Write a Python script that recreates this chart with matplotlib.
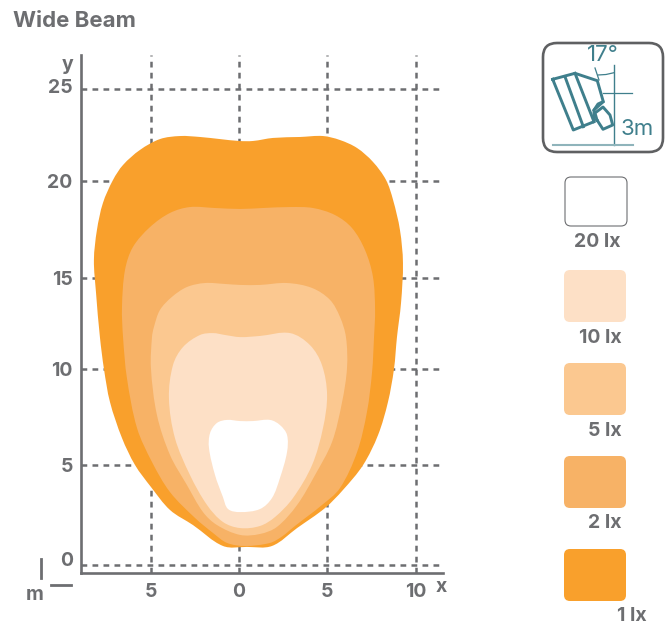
import matplotlib
matplotlib.use("Agg")
import matplotlib.pyplot as plt
import numpy as np
from matplotlib.path import Path
from matplotlib.patches import PathPatch, FancyBboxPatch
from matplotlib.transforms import ScaledTranslation

W, H = 668, 626
GRAY = "#6d6e71"
TEAL = "#3f7f8c"
plt.rcParams['font.family'] = ['Inter', 'DejaVu Sans']

title = "Wide Beam"
x_ticks = [-5, 0, 5, 10]
x_tick_labels = ["5", "0", "5", "10"]
# grid rows as they sit on the picture: the printed scale is slightly uneven
y_ticks = [0, 5.25, 10.29, 15.07, 20.17, 25]
y_tick_labels = ["0", "5", "10", "15", "20", "25"]

levels = ["1 lx", "2 lx", "5 lx", "10 lx", "20 lx"]
colors = ["#f9a02c", "#f7b266", "#fbc890", "#fde0c6", "#ffffff"]

lx1_x = [0, .79, 1.93, 3.46, 4.76, 5.72, 6.69, 7.59, 8.33, 8.73, 9.12, 9.29, 9.18, 8.95, 8.78, 8.44, 7.88, 7.03, 5.89, 4.87, 3.29, 1.87, .45, -.91, -2.61, -3.91, -4.99, -5.89, -6.63, -7.31, -7.65, -7.88, -8.10, -8.22, -8.05, -7.71, -7.14, -6.57, -5.61, -4.48, -3.34, -2.21, -1.08]
lx1_y = [22.27, 22.27, 22.43, 22.48, 22.53, 22.32, 21.90, 21.17, 20.22, 19.17, 17.59, 15.86, 13.76, 11.97, 10.29, 8.56, 6.83, 5.25, 3.94, 2.99, 1.94, 1.00, .95, 1.00, 2.10, 2.89, 4.10, 5.25, 6.67, 8.56, 10.29, 11.97, 14.29, 16.02, 17.59, 19.01, 20.22, 21.01, 21.80, 22.37, 22.53, 22.48, 22.37]

lx2_x = [.06, 1.36, 2.89, 4.19, 5.44, 6.40, 7.14, 7.59, 7.71, 7.65, 7.54, 7.25, 6.69, 5.72, 4.70, 3.17, 2.44, 1.76, .34, -.68, -1.47, -2.49, -3.91, -4.93, -5.78, -6.35, -6.57, -6.63, -6.46, -6.01, -5.04, -3.91, -2.78, -1.36]
lx2_y = [18.70, 18.75, 18.80, 18.75, 18.38, 17.70, 16.54, 15.13, 13.39, 11.97, 10.14, 8.04, 5.93, 4.04, 3.15, 2.05, 1.50, 1.16, 1.00, 1.16, 1.68, 2.47, 3.83, 5.41, 7.20, 9.82, 11.97, 13.55, 15.49, 16.70, 17.75, 18.49, 18.80, 18.75]

lx5_x = [.06, 1.19, 2.72, 4.14, 5.16, 5.72, 6.06, 6.12, 5.84, 5.27, 4.31, 3.29, 2.15, 1.19, .06, -1.25, -2.04, -2.95, -3.91, -4.65, -4.99, -4.93, -4.82, -4.48, -3.80, -2.95, -1.93, -.79]
lx5_y = [14.71, 14.71, 14.81, 14.55, 13.92, 13.03, 11.97, 10.35, 8.56, 6.46, 4.73, 3.15, 2.00, 1.63, 1.58, 2.10, 2.78, 4.20, 5.78, 7.88, 10.35, 11.97, 12.50, 13.39, 14.08, 14.60, 14.81, 14.76]

lx10_x = [.06, 1.19, 2.89, 4.02, 4.70, 4.99, 4.76, 4.14, 3.06, 2.04, 1.19, .06, -.91, -1.81, -2.78, -3.63, -3.97, -3.74, -3.17, -2.21, -1.47, -.79]
lx10_y = [11.97, 12.03, 12.18, 11.55, 10.50, 8.93, 7.20, 5.25, 3.52, 2.52, 2.05, 1.94, 2.26, 3.15, 4.73, 6.67, 8.77, 10.50, 11.45, 12.08, 12.18, 12.08]

lx20_x = [.06, .79, 1.76, 2.32, 2.72, 2.72, 2.32, 1.87, 1.19, .06, -.62, -.91, -1.36, -1.70, -1.64, -1.25, -.68]
lx20_y = [7.56, 7.56, 7.62, 7.35, 6.83, 5.93, 4.57, 3.52, 2.94, 2.78, 2.94, 3.57, 4.73, 6.14, 6.93, 7.46, 7.62]

contours = [(lx1_x, lx1_y), (lx2_x, lx2_y), (lx5_x, lx5_y), (lx10_x, lx10_y), (lx20_x, lx20_y)]


def smooth_path(xs, ys):
    """Closed Bezier curve through the outline points, handles set by chord length."""
    p = np.column_stack([xs, ys])
    n = len(p)
    tang = np.roll(p, -1, axis=0) - np.roll(p, 1, axis=0)
    tang = tang / np.linalg.norm(tang, axis=1, keepdims=True)
    verts = [p[0]]
    codes = [Path.MOVETO]
    for i in range(n):
        j = (i + 1) % n
        d = np.linalg.norm(p[j] - p[i])
        verts += [p[i] + tang[i] * d / 3, p[j] - tang[j] * d / 3, p[j]]
        codes += [Path.CURVE4] * 3
    return Path(np.array(verts), codes)


fig = plt.figure(figsize=(W / 100, H / 100), dpi=100)
L, R, T, B = 81, 443, 55, 573
ax = fig.add_axes([L / W, 1 - B / H, (R - L) / W, (B - T) / H])
ax.set_xlim((L - 239) / 17.65, (R - 239) / 17.65)
ax.set_ylim((565 - B) / 19.04, (565 - T) / 19.04)
ax.set_xticks(x_ticks, x_tick_labels)
ax.set_yticks(y_ticks, y_tick_labels)
ax.tick_params(length=0, colors=GRAY, labelsize=14)
ax.tick_params(axis='x', pad=7)
ax.tick_params(axis='y', pad=6)
for lab in ax.get_xticklabels() + ax.get_yticklabels():
    lab.set_fontweight('bold')
ylabs = ax.get_yticklabels()
ylabs[0].set_transform(ylabs[0].get_transform() + ScaledTranslation(0, 6 / 100, fig.dpi_scale_trans))
ylabs[-1].set_transform(ylabs[-1].get_transform() + ScaledTranslation(0, 3 / 100, fig.dpi_scale_trans))
ax.grid(True, color=GRAY, lw=1.8, dashes=(2.3, 2.1), zorder=1)
ax.set_axisbelow(True)
for s in ('top', 'right'):
    ax.spines[s].set_visible(False)
for s in ('left', 'bottom'):
    ax.spines[s].set_color(GRAY)
    ax.spines[s].set_linewidth(1.9)

for (xs, ys), c in zip(contours, colors):
    ax.add_patch(PathPatch(smooth_path(xs, ys), fc=c, ec='none', zorder=2))

# overlay in pixel coordinates for the decorations
ov = fig.add_axes([0, 0, 1, 1], facecolor='none')
ov.set_xlim(0, W)
ov.set_ylim(H, 0)
ov.axis('off')


def txt(x, y, s, size=14, color=GRAY, weight='bold', ha='center'):
    ov.text(x, y, s, fontsize=size, color=color, fontweight=weight, ha=ha, va='center')


txt(13, 21, title, size=16, ha='left')
txt(68, 65, "y")
txt(441, 587, "x")
txt(35, 595, "m")
ov.plot([41, 41], [559, 578], color=GRAY, lw=2)
ov.plot([51, 71], [585, 585], color=GRAY, lw=2)

# luminaire icon
ov.add_patch(FancyBboxPatch((552.5, 52.5), 101, 90, boxstyle="round,pad=9.5,rounding_size=14", fc='white', ec='#5f6062', lw=1.9))
ilw = 2.1
ov.plot([552.7, 575, 597.3, 603.3, 594, 594, 573.3, 552.7], [79.3, 73.3, 80.7, 101.7, 110, 121.7, 130, 79.3], color=TEAL, lw=ilw, solid_joinstyle='round')
ov.plot([565, 583.3], [76.7, 126.7], color=TEAL, lw=ilw)
ov.plot([575, 594], [73.3, 121.7], color=TEAL, lw=ilw)
ov.plot([597, 595, 603, 610, 612.7, 603, 597], [120, 113, 107, 115, 125, 129.3, 120], color=TEAL, lw=ilw, solid_joinstyle='round')
ov.plot([594, 598, 603], [110, 104, 101.7], color=TEAL, lw=ilw)
ov.plot([614.3, 614.3], [65, 145], color=TEAL, lw=1)
ov.plot([552.7, 633], [145, 145], color="#8fb4bb", lw=1.5)
ov.plot([603, 632], [93, 93], color=TEAL, lw=0.9)
ov.plot([595, 599], [68, 80], color=TEAL, lw=0.9)
ov.plot([598, 606, 614], [75, 74.5, 72.7], color=TEAL, lw=0.9)
txt(603, 55, "17°", size=16, color=TEAL, weight='normal')
txt(637, 129, "3m", size=16, color=TEAL, weight='normal')

# legend swatches
swatches = [(565, 177, 62, 49), (564, 270, 62, 52), (564, 363, 62, 52), (564, 456, 62, 52), (564, 549, 62, 52)]
label_pos = [(597, 242), (600, 338), (605, 431), (605, 523), (632, 616)]
for i, ((x, y, w, h), c, lab, (lx, ly)) in enumerate(zip(swatches, colors[::-1], levels[::-1], label_pos)):
    ov.add_patch(FancyBboxPatch((x + 6, y + 6), w - 12, h - 12, boxstyle="round,pad=6,rounding_size=6",
                                fc=c, ec=GRAY if i == 0 else 'none', lw=0.8))
    txt(lx, ly, lab)

fig.savefig("out.png", dpi=100, facecolor='white')
